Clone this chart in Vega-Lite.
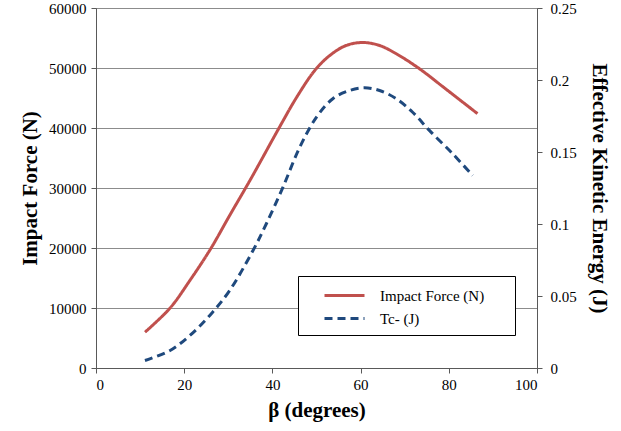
{
  "$schema": "https://vega.github.io/schema/vega-lite/v6.json",
  "width": 441,
  "height": 360,
  "autosize": {"type": "none"},
  "padding": {"left": 96, "top": 8, "right": 84, "bottom": 63},
  "background": "white",
  "config": {
    "font": "Liberation Serif",
    "view": {"stroke": "#868686", "strokeWidth": 1},
    "axis": {
      "labelFont": "Liberation Serif",
      "labelFontSize": 15,
      "labelColor": "#000000",
      "titleFont": "Liberation Serif",
      "titleFontSize": 21,
      "titleFontWeight": "bold",
      "titleColor": "#000000",
      "domainColor": "#595959",
      "tickColor": "#595959",
      "tickSize": 5,
      "gridColor": "#8c8c8c",
      "gridWidth": 1
    }
  },
  "data": {
    "values": [
      {"beta": 11.1, "series": "Impact Force (N)", "value": 5970},
      {"beta": 16.8, "series": "Impact Force (N)", "value": 10000},
      {"beta": 21.3, "series": "Impact Force (N)", "value": 14600},
      {"beta": 26.0, "series": "Impact Force (N)", "value": 19870},
      {"beta": 30.3, "series": "Impact Force (N)", "value": 25420},
      {"beta": 34.9, "series": "Impact Force (N)", "value": 31250},
      {"beta": 41.6, "series": "Impact Force (N)", "value": 40130},
      {"beta": 45.4, "series": "Impact Force (N)", "value": 45000},
      {"beta": 49.6, "series": "Impact Force (N)", "value": 49580},
      {"beta": 53.0, "series": "Impact Force (N)", "value": 52080},
      {"beta": 56.7, "series": "Impact Force (N)", "value": 53750},
      {"beta": 60.5, "series": "Impact Force (N)", "value": 54250},
      {"beta": 64.3, "series": "Impact Force (N)", "value": 53750},
      {"beta": 68.1, "series": "Impact Force (N)", "value": 52370},
      {"beta": 73.3, "series": "Impact Force (N)", "value": 49900},
      {"beta": 79.4, "series": "Impact Force (N)", "value": 46450},
      {"beta": 86.5, "series": "Impact Force (N)", "value": 42400},
      {"beta": 11.1, "series": "Tc- (J)", "value": 0.0052},
      {"beta": 16.8, "series": "Tc- (J)", "value": 0.0122},
      {"beta": 21.3, "series": "Tc- (J)", "value": 0.0226},
      {"beta": 25.8, "series": "Tc- (J)", "value": 0.0365},
      {"beta": 30.3, "series": "Tc- (J)", "value": 0.0538},
      {"beta": 35.6, "series": "Tc- (J)", "value": 0.0816},
      {"beta": 38.6, "series": "Tc- (J)", "value": 0.100},
      {"beta": 42.4, "series": "Tc- (J)", "value": 0.1256},
      {"beta": 46.2, "series": "Tc- (J)", "value": 0.1533},
      {"beta": 50.0, "series": "Tc- (J)", "value": 0.1742},
      {"beta": 53.7, "series": "Tc- (J)", "value": 0.187},
      {"beta": 57.5, "series": "Tc- (J)", "value": 0.1927},
      {"beta": 60.9, "series": "Tc- (J)", "value": 0.1946},
      {"beta": 64.3, "series": "Tc- (J)", "value": 0.1927},
      {"beta": 68.1, "series": "Tc- (J)", "value": 0.187},
      {"beta": 71.8, "series": "Tc- (J)", "value": 0.1776},
      {"beta": 75.6, "series": "Tc- (J)", "value": 0.165},
      {"beta": 80.9, "series": "Tc- (J)", "value": 0.1487},
      {"beta": 85.4, "series": "Tc- (J)", "value": 0.1337}
    ]
  },
  "encoding": {
    "x": {
      "field": "beta",
      "type": "quantitative",
      "scale": {"domain": [0, 100], "nice": false},
      "axis": {"values": [0, 20, 40, 60, 80, 100], "grid": false, "title": "β (degrees)", "titlePadding": 7, "labelPadding": 4}
    },
    "color": {
      "field": "series",
      "type": "nominal",
      "scale": {"domain": ["Impact Force (N)", "Tc- (J)"], "range": ["#C0504D", "#1F497D"]},
      "legend": {
        "title": null,
        "orient": "none",
        "legendX": 202,
        "legendY": 268,
        "symbolType": "M-2,0L2,0",
        "symbolSize": 400,
        "symbolStrokeWidth": 3,
        "symbolFillColor": "transparent",
        "symbolOffset": 27,
        "labelOffset": 24,
        "labelFont": "Liberation Serif",
        "labelFontSize": 15,
        "labelColor": "#000000",
        "labelExpr": "datum.label + '\u2800\u2800'",
        "rowPadding": 3,
        "padding": 8,
        "strokeColor": "#000000",
        "fillColor": "white"
      }
    },
    "strokeDash": {
      "field": "series",
      "type": "nominal",
      "scale": {"domain": ["Impact Force (N)", "Tc- (J)"], "range": [[1, 0], [8, 5]]},
      "legend": null
    }
  },
  "layer": [
    {
      "transform": [{"filter": "datum.series === 'Impact Force (N)'"}],
      "mark": {"type": "line", "interpolate": "catmull-rom", "strokeWidth": 3},
      "encoding": {
        "y": {
          "field": "value",
          "type": "quantitative",
          "scale": {"domain": [0, 60000], "nice": false},
          "axis": {"orient": "left", "values": [0, 10000, 20000, 30000, 40000, 50000, 60000], "title": "Impact Force (N)", "titlePadding": 8, "labelPadding": 5, "format": "d"}
        }
      }
    },
    {
      "transform": [{"filter": "datum.series === 'Tc- (J)'"}],
      "mark": {"type": "line", "interpolate": "catmull-rom", "strokeWidth": 3},
      "encoding": {
        "y": {
          "field": "value",
          "type": "quantitative",
          "scale": {"domain": [0, 0.25], "nice": false},
          "axis": {"orient": "right", "values": [0, 0.05, 0.1, 0.15, 0.2, 0.25], "grid": false, "title": "Effective Kinetic Energy (J)", "titlePadding": 12, "labelPadding": 8, "format": "~g"}
        }
      }
    }
  ],
  "resolve": {"scale": {"y": "independent"}}
}
